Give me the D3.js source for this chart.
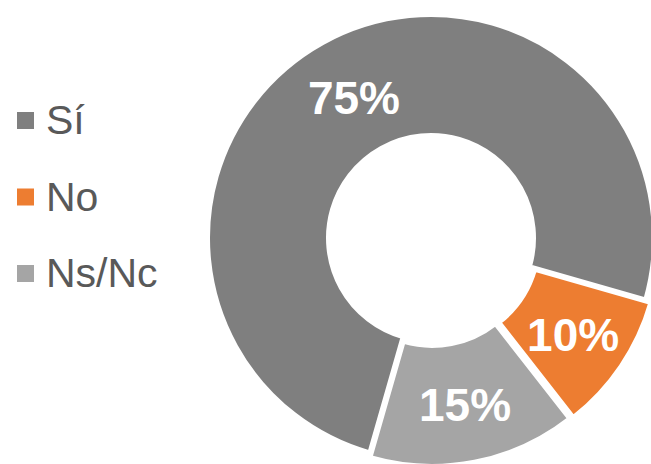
<!DOCTYPE html>
<html>
<head>
<meta charset="utf-8">
<script src="https://cdn.jsdelivr.net/npm/d3@7"></script>
<style>
  html, body { margin: 0; padding: 0; background: #fff; }
  svg { display: block; }
</style>
</head>
<body>
<script>
// chart data
const categories = ['Sí', 'No', 'Ns/Nc'];
const values     = [75, 10, 15];
const colors     = ['#7f7f7f', '#ed7d31', '#a5a5a5'];
const explode    = [0, 6, 5];

const width  = 651;
const height = 464;

const cx = 431;
const cy = 238;
const outerR = 223;
const innerR = 103;

const svg = d3.select('body')
  .append('svg')
    .attr('width',  width)
    .attr('height', height);

// pie layout, first slice starts at 196 degrees
const toRad = (d) => d * Math.PI / 180;
const pie = d3.pie()
  .sort(null)
  .value((d) => d)
  .startAngle(toRad(196))
  .endAngle(toRad(196 + 360));

const arc = d3.arc()
  .innerRadius(innerR)
  .outerRadius(outerR);

const arcs = pie(values);

const offset = (d, i) => {
  const mid = (d.startAngle + d.endAngle) / 2;
  return [Math.sin(mid) * explode[i], -Math.cos(mid) * explode[i]];
};

const g = svg.append('g')
  .attr('transform', `translate(${cx},${cy})`);

// slices
g.selectAll('path')
  .data(arcs)
  .join('path')
    .attr('d', arc)
    .attr('fill', (d, i) => colors[i])
    .attr('stroke', '#fff')
    .attr('stroke-width', 4)
    .attr('transform', (d, i) => `translate(${offset(d, i)})`);

// data labels
g.selectAll('text')
  .data(arcs)
  .join('text')
    .attr('x', (d, i) => arc.centroid(d)[0] + offset(d, i)[0] + 2)
    .attr('y', (d, i) => arc.centroid(d)[1] + offset(d, i)[1] + 2)
    .attr('dy', '0.35em')
    .attr('text-anchor', 'middle')
    .attr('fill', '#fff')
    .attr('font-family', 'Liberation Sans, Arial, sans-serif')
    .attr('font-weight', 'bold')
    .attr('font-size', 46)
    .text((d) => `${d.value}%`);

// legend
const legend = svg.append('g')
  .selectAll('g')
  .data(categories)
  .join('g')
    .attr('transform', (d, i) => `translate(17,${134 + i * 76.5})`);

legend.append('rect')
  .attr('x', 0)
  .attr('y', -22)
  .attr('width', 17)
  .attr('height', 17)
  .attr('fill', (d, i) => colors[i]);

legend.append('text')
  .attr('x', 29)
  .attr('y', 0)
  .attr('fill', '#595959')
  .attr('font-family', 'Liberation Sans, Arial, sans-serif')
  .attr('font-size', 41)
  .text((d) => d);
</script>
</body>
</html>
